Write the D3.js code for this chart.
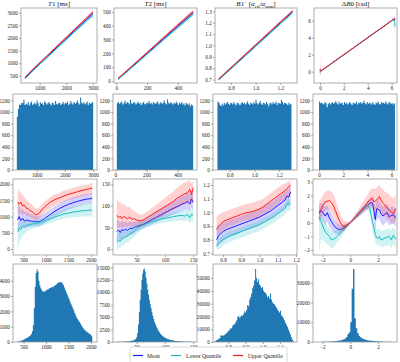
<!DOCTYPE html>
<html>
<head>
<meta charset="utf-8">
<title>Quantile regression panels</title>
<script src="https://d3js.org/d3.v7.min.js"></script>
<style>
  html, body { margin:0; padding:0; background:#fff; }
  svg text { font-family: "Liberation Serif", "Times New Roman", serif; }
</style>
</head>
<body>
<div id="chart"></div>
<script>
// ---------- row 1 : estimate vs reference ----------
var r1T1x = [450, 800, 1300, 1800, 2300, 2800, 3000];
var r1T1Up = [450, 820, 1320, 1830, 2330, 2840, 3040];
var r1T1UpHi = [475, 850, 1355, 1870, 2380, 2900, 3110];
var r1T1UpLo = [430, 795, 1290, 1795, 2290, 2790, 2980];
var r1T1Mean = [420, 790, 1285, 1790, 2285, 2780, 2970];
var r1T1MeanHi = [440, 815, 1315, 1825, 2330, 2830, 3030];
var r1T1MeanLo = [400, 765, 1255, 1755, 2245, 2730, 2910];
var r1T1Low = [390, 760, 1250, 1745, 2235, 2720, 2890];
var r1T1LowHi = [410, 785, 1280, 1780, 2275, 2770, 2950];
var r1T1LowLo = [365, 730, 1215, 1705, 2185, 2660, 2820];

var r1T2x = [12, 100, 200, 300, 400, 500];
var r1T2Up = [20, 106, 206, 306, 405, 503];
var r1T2UpHi = [24, 112, 214, 316, 417, 517];
var r1T2UpLo = [16, 101, 199, 298, 396, 492];
var r1T2Mean = [16, 101, 200, 298, 396, 493];
var r1T2MeanHi = [20, 106, 207, 307, 406, 505];
var r1T2MeanLo = [12, 96, 193, 290, 386, 480];
var r1T2Low = [12, 96, 193, 290, 386, 481];
var r1T2LowHi = [15, 101, 199, 298, 395, 491];
var r1T2LowLo = [8, 90, 186, 281, 375, 468];

var r1B1x = [0.7, 0.8, 0.9, 1.0, 1.1, 1.2, 1.3];
var r1B1Up = [0.706, 0.806, 0.906, 1.006, 1.106, 1.206, 1.304];
var r1B1UpHi = [0.714, 0.815, 0.916, 1.017, 1.118, 1.219, 1.318];
var r1B1UpLo = [0.7, 0.8, 0.9, 1.0, 1.1, 1.2, 1.297];
var r1B1Mean = [0.701, 0.8, 0.9, 1.0, 1.1, 1.2, 1.297];
var r1B1MeanHi = [0.708, 0.808, 0.909, 1.01, 1.11, 1.21, 1.308];
var r1B1MeanLo = [0.694, 0.793, 0.892, 0.991, 1.09, 1.189, 1.286];
var r1B1Low = [0.696, 0.795, 0.894, 0.993, 1.092, 1.191, 1.289];
var r1B1LowHi = [0.702, 0.802, 0.902, 1.002, 1.102, 1.202, 1.3];
var r1B1LowLo = [0.688, 0.786, 0.884, 0.982, 1.08, 1.178, 1.276];

var r1B0x = [0, 0.02, 0.1, 1, 2, 3, 4, 5, 6, 6.2, 6.26, 6.28];
var r1B0Up = [0.3, 0.1, 0.12, 1.02, 2.02, 3.02, 4.02, 5.02, 6.02, 6.22, 6.28, 6.3];
var r1B0UpHi = [2.5, 1.0, 0.2, 1.06, 2.06, 3.06, 4.06, 5.06, 6.06, 6.3, 6.6, 7.2];
var r1B0UpLo = [-0.8, -0.3, 0.05, 0.98, 1.98, 2.98, 3.98, 4.98, 5.98, 6.15, 6.1, 5.8];
var r1B0Mean = [0.1, 0.05, 0.1, 1.0, 2.0, 3.0, 4.0, 5.0, 6.0, 6.18, 6.2, 6.1];
var r1B0MeanHi = [1.0, 0.5, 0.15, 1.04, 2.04, 3.04, 4.04, 5.04, 6.04, 6.25, 6.4, 6.6];
var r1B0MeanLo = [-0.6, -0.2, 0.05, 0.96, 1.96, 2.96, 3.96, 4.96, 5.96, 6.1, 5.7, 5.0];
var r1B0Low = [-0.1, 0.0, 0.08, 0.98, 1.98, 2.98, 3.98, 4.98, 5.98, 6.1, 5.8, 5.3];
var r1B0LowHi = [0.5, 0.2, 0.12, 1.02, 2.02, 3.02, 4.02, 5.02, 6.02, 6.2, 6.3, 6.3];
var r1B0LowLo = [-1.2, -0.4, 0.02, 0.94, 1.94, 2.94, 3.94, 4.94, 5.94, 5.9, 4.5, 3.0];

// ---------- row 2 : uniform training distributions ----------
var r2T1Range = [300, 3000];
var r2T1Counts = [920, 1050, 1130, 1120, 1160, 1150, 1210, 1120, 1140, 1130, 1170, 1110, 1150, 1180, 1120, 1140, 1160, 1130, 1200, 1150, 1100, 1170, 1140, 1150, 1120, 1180, 1160, 1130, 1150, 1170, 1140, 1110, 1160, 1150, 1120, 1190, 1140, 1130, 1160, 1150, 1120, 1140, 1170, 1130, 1160, 1150, 1180, 1120, 1140, 1190, 1150, 1130, 1170, 1140, 1160, 1200, 1150, 1130, 1250, 1160, 1140, 1170, 1130, 1150, 1180, 1120, 1160, 1140, 1150, 1170];
var r2T2Range = [10, 500];
var r2T2Counts = [1150, 1170, 1140, 1160, 1180, 1130, 1150, 1200, 1140, 1170, 1160, 1130, 1210, 1150, 1140, 1170, 1160, 1130, 1150, 1180, 1140, 1160, 1120, 1150, 1170, 1140, 1130, 1160, 1150, 1190, 1140, 1160, 1130, 1170, 1150, 1140, 1160, 1180, 1130, 1150, 1170, 1140, 1160, 1200, 1150, 1130, 1220, 1160, 1140, 1170, 1150, 1130, 1160, 1140, 1180, 1150, 1120, 1160, 1140, 1170, 1130, 1150, 1110, 1160, 1140, 1120, 1150, 1100, 1130, 1110];
var r2B1Range = [0.7, 1.3];
var r2B1Counts = [1180, 1160, 1120, 1100, 1140, 1110, 1160, 1130, 1150, 1170, 1140, 1120, 1160, 1150, 1130, 1170, 1140, 1110, 1150, 1160, 1130, 1120, 1150, 1170, 1140, 1160, 1130, 1150, 1180, 1140, 1120, 1160, 1150, 1130, 1170, 1140, 1210, 1150, 1130, 1160, 1190, 1140, 1120, 1160, 1150, 1130, 1170, 1140, 1100, 1150, 1160, 1130, 1170, 1140, 1150, 1180, 1120, 1160, 1150, 1140, 1210, 1170, 1130, 1160, 1150, 1140, 1120, 1160, 1130, 1140];
var r2B0Range = [0, 6.283];
var r2B0Counts = [1180, 1150, 1160, 1140, 1130, 1170, 1150, 1080, 1140, 1160, 1130, 1150, 1170, 1140, 1160, 1190, 1150, 1130, 1180, 1140, 1160, 1150, 1120, 1170, 1140, 1160, 1130, 1150, 1170, 1140, 1120, 1160, 1150, 1140, 1180, 1130, 1160, 1150, 1170, 1140, 1160, 1200, 1150, 1130, 1170, 1140, 1160, 1150, 1130, 1170, 1140, 1120, 1160, 1150, 1180, 1140, 1130, 1170, 1150, 1160, 1140, 1180, 1150, 1130, 1170, 1160, 1140, 1150, 1130, 1150];

// ---------- row 3 : quantiles along the in-vivo range ----------
var r3T1x = [370, 400, 440, 480, 520, 560, 600, 640, 680, 720, 760, 800, 850, 900, 960, 1020, 1100, 1200, 1300, 1400, 1500, 1600, 1700, 1800, 1900, 1960, 2000, 2030];
var r3T1Up = [1460, 1380, 1450, 1330, 1350, 1260, 1250, 1180, 1170, 1110, 1070, 1060, 1110, 1200, 1290, 1360, 1450, 1530, 1580, 1640, 1690, 1730, 1770, 1810, 1840, 1860, 1880, 1870];
var r3T1UpHi = [1900, 1800, 1750, 1650, 1600, 1530, 1480, 1420, 1380, 1320, 1270, 1250, 1290, 1370, 1460, 1530, 1610, 1690, 1740, 1800, 1850, 1890, 1930, 1960, 1990, 2010, 2040, 2050];
var r3T1UpLo = [1100, 1050, 1120, 1060, 1100, 1020, 1030, 990, 970, 930, 900, 890, 940, 1020, 1110, 1180, 1270, 1350, 1400, 1460, 1510, 1550, 1590, 1630, 1660, 1680, 1700, 1690];
var r3T1Mean = [900, 1000, 880, 950, 860, 900, 880, 870, 860, 850, 845, 840, 850, 880, 930, 990, 1070, 1170, 1250, 1320, 1380, 1430, 1470, 1510, 1540, 1550, 1560, 1570];
var r3T1MeanHi = [1300, 1350, 1200, 1250, 1150, 1160, 1120, 1090, 1070, 1050, 1030, 1010, 1010, 1040, 1090, 1150, 1230, 1330, 1410, 1480, 1540, 1590, 1630, 1670, 1700, 1710, 1730, 1740];
var r3T1MeanLo = [600, 650, 620, 680, 640, 680, 680, 690, 690, 700, 700, 700, 710, 740, 790, 840, 920, 1010, 1090, 1160, 1220, 1270, 1310, 1350, 1380, 1390, 1400, 1400];
var r3T1Low = [520, 650, 600, 700, 680, 720, 740, 760, 770, 780, 790, 800, 810, 830, 860, 890, 930, 990, 1040, 1080, 1110, 1140, 1160, 1180, 1190, 1200, 1210, 1180];
var r3T1LowHi = [800, 850, 820, 880, 850, 860, 870, 880, 880, 880, 885, 890, 900, 920, 960, 1000, 1050, 1120, 1180, 1230, 1270, 1310, 1340, 1370, 1390, 1400, 1410, 1400];
var r3T1LowLo = [-50, 200, 300, 420, 450, 520, 560, 600, 620, 640, 660, 670, 690, 710, 740, 770, 810, 860, 900, 940, 960, 980, 990, 1000, 1010, 1010, 1000, 980];

var r3T2x = [15, 18, 21, 24, 27, 30, 34, 38, 42, 46, 50, 55, 60, 65, 70, 75, 80, 85, 90, 95, 100, 105, 110, 115, 120, 125, 130, 135, 140, 144, 147, 150];
var r3T2Up = [78, 72, 76, 70, 75, 73, 70, 74, 68, 70, 67, 65, 66, 70, 74, 78, 82, 86, 90, 94, 98, 102, 106, 110, 116, 120, 124, 128, 130, 138, 126, 142];
var r3T2UpHi = [120, 108, 110, 102, 105, 100, 96, 98, 90, 88, 84, 80, 80, 84, 88, 93, 98, 103, 108, 113, 118, 123, 128, 133, 140, 145, 150, 155, 156, 160, 152, 158];
var r3T2UpLo = [50, 48, 52, 48, 52, 52, 50, 54, 50, 54, 53, 52, 54, 57, 61, 64, 67, 70, 73, 76, 80, 83, 86, 90, 94, 98, 101, 104, 105, 110, 100, 112];
var r3T2Mean = [40, 44, 38, 45, 42, 46, 43, 48, 47, 50, 52, 54, 56, 59, 63, 66, 70, 73, 77, 80, 84, 87, 91, 94, 97, 100, 104, 106, 110, 104, 116, 108];
var r3T2MeanHi = [68, 66, 60, 66, 62, 64, 60, 64, 62, 63, 64, 64, 66, 70, 74, 78, 82, 86, 90, 94, 98, 102, 106, 110, 114, 118, 122, 125, 130, 126, 136, 130];
var r3T2MeanLo = [18, 22, 20, 26, 24, 28, 28, 32, 33, 37, 40, 44, 47, 50, 53, 56, 59, 62, 65, 68, 71, 74, 77, 79, 82, 85, 88, 90, 92, 86, 96, 88];
var r3T2Low = [15, 20, 18, 25, 24, 28, 30, 35, 38, 42, 46, 51, 55, 57, 60, 62, 64, 66, 68, 70, 71, 72, 73, 75, 76, 77, 78, 76, 80, 72, 80, 78];
var r3T2LowHi = [35, 38, 36, 42, 40, 44, 45, 49, 51, 54, 57, 61, 64, 66, 68, 70, 72, 74, 76, 78, 80, 81, 83, 85, 87, 88, 89, 88, 92, 86, 92, 90];
var r3T2LowLo = [-5, 2, 2, 8, 8, 12, 15, 20, 24, 29, 34, 40, 45, 48, 51, 53, 55, 57, 59, 60, 61, 62, 63, 64, 65, 66, 66, 63, 67, 58, 66, 62];

var r3B1x = [0.765, 0.775, 0.785, 0.8, 0.82, 0.84, 0.86, 0.88, 0.9, 0.92, 0.94, 0.96, 0.98, 1.0, 1.02, 1.04, 1.06, 1.08, 1.1, 1.12, 1.14, 1.15, 1.16, 1.17];
var r3B1Up = [0.875, 0.9, 0.91, 0.93, 0.945, 0.955, 0.965, 0.975, 0.985, 0.995, 1.0, 1.005, 1.015, 1.025, 1.04, 1.06, 1.08, 1.1, 1.12, 1.14, 1.16, 1.175, 1.185, 1.2];
var r3B1UpHi = [0.97, 0.98, 0.99, 1.0, 1.01, 1.02, 1.03, 1.04, 1.05, 1.06, 1.065, 1.07, 1.08, 1.09, 1.1, 1.12, 1.14, 1.16, 1.18, 1.2, 1.21, 1.22, 1.225, 1.23];
var r3B1UpLo = [0.82, 0.84, 0.85, 0.87, 0.89, 0.9, 0.91, 0.92, 0.93, 0.94, 0.945, 0.95, 0.96, 0.97, 0.985, 1.0, 1.02, 1.04, 1.06, 1.08, 1.1, 1.11, 1.12, 1.13];
var r3B1Mean = [0.8, 0.83, 0.84, 0.86, 0.875, 0.885, 0.895, 0.905, 0.915, 0.925, 0.935, 0.945, 0.955, 0.965, 0.98, 0.995, 1.01, 1.03, 1.05, 1.07, 1.09, 1.12, 1.11, 1.15];
var r3B1MeanHi = [0.88, 0.9, 0.91, 0.92, 0.935, 0.945, 0.955, 0.965, 0.975, 0.985, 0.995, 1.005, 1.015, 1.025, 1.04, 1.055, 1.07, 1.09, 1.11, 1.13, 1.15, 1.17, 1.17, 1.19];
var r3B1MeanLo = [0.74, 0.76, 0.77, 0.79, 0.81, 0.82, 0.83, 0.84, 0.855, 0.865, 0.875, 0.885, 0.895, 0.905, 0.92, 0.935, 0.95, 0.97, 0.99, 1.01, 1.03, 1.05, 1.04, 1.08];
var r3B1Low = [0.755, 0.775, 0.785, 0.8, 0.815, 0.83, 0.84, 0.85, 0.86, 0.87, 0.88, 0.89, 0.9, 0.91, 0.925, 0.94, 0.955, 0.97, 0.99, 1.01, 1.03, 1.06, 1.07, 1.055];
var r3B1LowHi = [0.8, 0.81, 0.82, 0.835, 0.85, 0.86, 0.87, 0.88, 0.89, 0.9, 0.91, 0.92, 0.93, 0.94, 0.955, 0.97, 0.985, 1.0, 1.02, 1.04, 1.06, 1.09, 1.1, 1.09];
var r3B1LowLo = [0.72, 0.73, 0.74, 0.755, 0.77, 0.785, 0.795, 0.805, 0.815, 0.825, 0.835, 0.845, 0.855, 0.865, 0.88, 0.895, 0.91, 0.925, 0.945, 0.965, 0.985, 1.01, 1.02, 1.0];

var r3B0x = [-2.25, -2.1, -1.95, -1.8, -1.65, -1.5, -1.35, -1.2, -1.05, -0.9, -0.75, -0.6, -0.45, -0.3, -0.15, 0, 0.2, 0.4, 0.6, 0.8, 1.0, 1.2, 1.4, 1.5, 1.6, 1.7, 1.8, 1.9, 2.0, 2.1, 2.2, 2.35, 2.5, 2.65, 2.8, 2.95, 3.1, 3.27];
var r3B0Up = [0.8, 1.0, 1.3, 1.55, 1.6, 1.65, 1.5, 1.25, 0.85, 0.45, 0.1, -0.15, -0.27, -0.2, -0.1, 0.02, 0.25, 0.47, 0.72, 0.95, 1.2, 1.45, 1.7, 1.78, 1.82, 1.55, 1.62, 1.7, 1.8, 1.95, 1.7, 1.45, 1.3, 1.1, 0.95, 0.8, 0.7, 1.05];
var r3B0UpHi = [1.6, 1.8, 2.1, 2.3, 2.4, 2.4, 2.3, 2.1, 1.7, 1.2, 0.7, 0.35, 0.15, 0.1, 0.1, 0.08, 0.4, 0.7, 1.05, 1.35, 1.7, 2.0, 2.35, 2.5, 2.6, 2.5, 2.5, 2.6, 2.7, 2.8, 2.6, 2.5, 2.3, 2.2, 2.1, 1.9, 1.8, 2.1];
var r3B0UpLo = [0.1, 0.4, 0.7, 0.9, 1.0, 1.0, 0.8, 0.5, 0.1, -0.3, -0.5, -0.6, -0.6, -0.45, -0.3, -0.05, 0.1, 0.3, 0.45, 0.65, 0.85, 1.0, 1.2, 1.25, 1.2, 0.8, 0.9, 1.0, 1.0, 1.1, 0.9, 0.6, 0.5, 0.3, 0.2, 0.0, -0.1, 0.2];
var r3B0Mean = [0.7, 0.9, 0.75, 0.5, 0.75, 0.35, 0.1, -0.15, -0.35, -0.45, -0.52, -0.45, -0.35, -0.22, -0.1, 0.02, 0.22, 0.45, 0.65, 0.85, 1.05, 1.25, 1.45, 1.5, 1.45, 0.9, 0.25, 1.05, 1.0, 0.95, 0.7, 0.5, 0.65, 0.75, 0.45, 0.55, 0.6, 0.35];
var r3B0MeanHi = [1.3, 1.5, 1.4, 1.2, 1.3, 1.0, 0.7, 0.4, 0.1, -0.05, -0.15, -0.15, -0.1, -0.05, 0.0, 0.06, 0.35, 0.62, 0.85, 1.1, 1.3, 1.55, 1.8, 1.9, 1.9, 1.6, 1.2, 1.7, 1.7, 1.6, 1.4, 1.2, 1.3, 1.4, 1.1, 1.2, 1.2, 1.0];
var r3B0MeanLo = [0.1, 0.3, 0.1, -0.2, 0.1, -0.3, -0.5, -0.7, -0.8, -0.85, -0.9, -0.75, -0.6, -0.4, -0.2, -0.02, 0.1, 0.3, 0.45, 0.6, 0.8, 0.95, 1.1, 1.1, 0.9, 0.2, -0.6, 0.3, 0.3, 0.3, 0.0, -0.2, 0.0, 0.1, -0.2, -0.1, 0.0, -0.3];
var r3B0Low = [0.45, 0.1, -0.3, -0.65, -0.85, -1.0, -1.25, -1.2, -1.1, -0.95, -0.8, -0.62, -0.45, -0.3, -0.15, 0.0, 0.2, 0.42, 0.62, 0.85, 1.05, 1.3, 1.1, 0.6, 0.1, -0.4, -0.85, -1.1, -1.15, -1.0, -1.25, -1.2, -1.1, -1.05, -1.0, -1.25, -0.9, -1.2];
var r3B0LowHi = [1.0, 0.7, 0.3, 0.0, -0.2, -0.4, -0.6, -0.6, -0.55, -0.5, -0.4, -0.3, -0.2, -0.1, 0.0, 0.05, 0.3, 0.55, 0.8, 1.05, 1.3, 1.55, 1.5, 1.2, 0.7, 0.1, -0.3, -0.5, -0.55, -0.4, -0.6, -0.55, -0.5, -0.45, -0.4, -0.6, -0.3, -0.6];
var r3B0LowLo = [-2.2, -1.2, -1.3, -1.4, -1.6, -1.7, -1.9, -1.8, -1.6, -1.4, -1.2, -1.0, -0.75, -0.5, -0.3, -0.05, 0.1, 0.3, 0.45, 0.65, 0.8, 1.0, 0.6, 0.0, -0.5, -1.0, -1.4, -1.6, -1.7, -1.6, -1.8, -1.8, -1.7, -1.7, -1.6, -1.9, -1.5, -1.9];

// ---------- row 4 : in-vivo distributions ----------
var r4T1Range = [350, 2030];
var r4T1Counts = [20, 30, 40, 60, 80, 100, 130, 160, 200, 230, 260, 300, 340, 380, 430, 520, 700, 1100, 2200, 3600, 4500, 4750, 4600, 4000, 3700, 3500, 3400, 3300, 3280, 3300, 3350, 3380, 3420, 3450, 3500, 3520, 3560, 3600, 3580, 3650, 3700, 3720, 3800, 3850, 3900, 3920, 3880, 3900, 3820, 3700, 3550, 3400, 3250, 3100, 2950, 2800, 2650, 2500, 2350, 2200, 2050, 1900, 1750, 1600, 1500, 1400, 1300, 1200, 1100, 1000, 900, 820, 750, 700, 650, 600, 560, 520, 480, 380];
var r4T2Range = [15, 150];
var r4T2Counts = [30, 40, 40, 50, 60, 60, 70, 80, 90, 100, 110, 120, 130, 150, 170, 190, 210, 240, 280, 320, 380, 480, 650, 1000, 1800, 3500, 6000, 8500, 10500, 12500, 13800, 14600, 14800, 14200, 13000, 11800, 10500, 9500, 8500, 7600, 6800, 6000, 5300, 4700, 4100, 3600, 3200, 2800, 2450, 2150, 1900, 1650, 1450, 1300, 1150, 1000, 900, 800, 720, 650, 580, 520, 470, 420, 380, 340, 300, 270, 240, 220, 200, 180, 160, 145, 130, 120, 110, 100, 90, 80, 75, 70, 60, 55, 50, 45, 40, 40, 35, 30];
var r4B1Range = [0.72, 1.18];
var r4B1Counts = [400, 900, 1500, 2000, 2500, 3000, 5200, 4800, 5000, 5100, 5600, 6500, 7000, 8000, 9000, 9500, 11000, 10500, 13000, 13500, 14000, 15500, 17000, 19500, 20500, 19000, 20000, 21000, 20500, 22000, 24000, 23000, 25000, 29000, 28000, 33000, 35000, 38000, 42000, 44000, 48000, 57000, 50000, 47000, 49000, 45000, 44000, 42000, 43000, 40000, 39000, 38500, 37000, 35000, 36000, 34000, 38000, 33000, 31000, 30000, 29500, 28000, 27000, 25500, 24000, 23000, 24500, 21000, 20000, 18500, 17000, 15000, 13500, 12000, 10000, 8000, 6000, 4000, 2000, 800];
var r4B0Range = [-2.6, 3.3];
var r4B0Counts = [30, 40, 40, 50, 60, 70, 80, 100, 120, 150, 180, 220, 260, 310, 380, 450, 520, 620, 750, 900, 1100, 1400, 1800, 2500, 4000, 5000, 10000, 27000, 37000, 12000, 7000, 4500, 3200, 2400, 1900, 1500, 1250, 1050, 900, 780, 680, 600, 520, 460, 400, 350, 300, 260, 220, 190, 160, 130, 110, 90, 70, 50, 40, 30, 20];

var legendLabels = ['Mean', 'Lower Quantile', 'Upper Quantile'];
var colMean = '#1a1aff', colLow = '#17bfbf', colUp = '#ff1a1a', colHist = '#1f77b4';

// ---------- drawing ----------
var svg = d3.select('#chart').append('svg').attr('width', 400).attr('height', 362);
var clipN = 0;

function panel(box, xDom, yDom, xTicks, yTicks, xFmt, yFmt) {
    var p = { box: box };
    p.x = d3.scaleLinear().domain(xDom).range([box[0], box[2]]);
    p.y = d3.scaleLinear().domain(yDom).range([box[3], box[1]]);
    var id = 'clip' + (clipN++);
    svg.append('clipPath').attr('id', id).append('rect')
        .attr('x', box[0]).attr('y', box[1])
        .attr('width', box[2] - box[0]).attr('height', box[3] - box[1]);
    p.g = svg.append('g').attr('clip-path', 'url(#' + id + ')');

    var gx = svg.append('g').attr('transform', 'translate(0,' + box[3] + ')')
        .call(d3.axisBottom(p.x).tickValues(xTicks).tickFormat(xFmt).tickSize(2).tickPadding(1.2));
    var gy = svg.append('g').attr('transform', 'translate(' + box[0] + ',0)')
        .call(d3.axisLeft(p.y).tickValues(yTicks).tickFormat(yFmt).tickSize(2).tickPadding(1.2));
    [gx, gy].forEach(function (g) {
        g.attr('font-family', '"Liberation Serif", "Times New Roman", serif').attr('font-size', 5.2);
        g.select('.domain').remove();
        g.selectAll('line').attr('stroke', '#666').attr('stroke-width', 0.6);
        g.selectAll('text').attr('fill', '#222');
    });
    p.frame = function () {
        svg.append('rect').attr('x', box[0]).attr('y', box[1])
            .attr('width', box[2] - box[0]).attr('height', box[3] - box[1])
            .attr('fill', 'none').attr('stroke', '#9a9a9a').attr('stroke-width', 0.8);
    };
    return p;
}

function quantiles(p, xs, series) {
    series.forEach(function (s) {
        var area = d3.area()
            .x(function (d, i) { return p.x(xs[i]); })
            .y0(function (d, i) { return p.y(s.lo[i]); })
            .y1(function (d, i) { return p.y(s.hi[i]); });
        p.g.append('path').attr('d', area(xs)).attr('fill', s.color).attr('fill-opacity', 0.2);
        var line = d3.line()
            .x(function (d, i) { return p.x(xs[i]); })
            .y(function (d) { return p.y(d); });
        p.g.append('path').attr('d', line(s.line)).attr('fill', 'none')
            .attr('stroke', s.color).attr('stroke-width', 1);
    });
    p.frame();
}

// histogram as one stepped outline, so thin bins leave no seams
function hist(p, range, counts) {
    var w = (range[1] - range[0]) / counts.length;
    var steps = counts.concat([counts[counts.length - 1]]);
    var area = d3.area().curve(d3.curveStepAfter)
        .x(function (d, i) { return p.x(range[0] + i * w); })
        .y0(p.y(0))
        .y1(function (d) { return p.y(d); });
    p.g.append('path').attr('d', area(steps)).attr('fill', colHist);
    p.frame();
}

function sets(up, upHi, upLo, mean, meanHi, meanLo, low, lowHi, lowLo) {
    return [
        { line: mean, lo: meanLo, hi: meanHi, color: colMean },
        { line: low, lo: lowLo, hi: lowHi, color: colLow },
        { line: up, lo: upLo, hi: upHi, color: colUp }
    ];
}

var fInt = d3.format('d'), f1 = d3.format('.1f');
var rowY = [[8, 83], [94, 170], [179, 255], [264, 342]];
var colX = [[13, 97], [113, 197], [213, 297], [313, 397]];

// row 1
var p;
p = panel([21, rowY[0][0], 97, rowY[0][1]], [300, 3150], [220, 3190], [1000, 2000, 3000], [500, 1000, 1500, 2000, 2500, 3000], fInt, fInt);
quantiles(p, r1T1x, sets(r1T1Up, r1T1UpHi, r1T1UpLo, r1T1Mean, r1T1MeanHi, r1T1MeanLo, r1T1Low, r1T1LowHi, r1T1LowLo));
p = panel([114, rowY[0][0], 197, rowY[0][1]], [-14.5, 524.5], [-14, 527], [0, 200, 400], [0, 100, 200, 300, 400, 500], fInt, fInt);
quantiles(p, r1T2x, sets(r1T2Up, r1T2UpHi, r1T2UpLo, r1T2Mean, r1T2MeanHi, r1T2MeanLo, r1T2Low, r1T2LowHi, r1T2LowLo));
p = panel([215, rowY[0][0], 297, rowY[0][1]], [0.67, 1.335], [0.67, 1.33], [0.8, 1.0, 1.2], [0.7, 0.8, 0.9, 1.0, 1.1, 1.2, 1.3], f1, f1);
quantiles(p, r1B1x, sets(r1B1Up, r1B1UpHi, r1B1UpLo, r1B1Mean, r1B1MeanHi, r1B1MeanLo, r1B1Low, r1B1LowHi, r1B1LowLo));
p = panel([314, rowY[0][0], 397, rowY[0][1]], [-0.5, 6.45], [-1.33, 7.5], [0, 2, 4, 6], [0, 2, 4, 6], fInt, fInt);
quantiles(p, r1B0x, sets(r1B0Up, r1B0UpHi, r1B0UpLo, r1B0Mean, r1B0MeanHi, r1B0MeanLo, r1B0Low, r1B0LowHi, r1B0LowLo));

// row 2
var yHist2 = [0, 200, 400, 600, 800, 1000, 1200];
p = panel([colX[0][0], rowY[1][0], colX[0][1], rowY[1][1]], [165, 3135], [0, 1310], [1000, 2000, 3000], yHist2, fInt, fInt);
hist(p, r2T1Range, r2T1Counts);
p = panel([colX[1][0], rowY[1][0], colX[1][1], rowY[1][1]], [-14.5, 524.5], [0, 1310], [0, 200, 400], yHist2, fInt, fInt);
hist(p, r2T2Range, r2T2Counts);
p = panel([colX[2][0], rowY[1][0], colX[2][1], rowY[1][1]], [0.664, 1.345], [0, 1310], [0.8, 1.0, 1.2], yHist2, f1, fInt);
hist(p, r2B1Range, r2B1Counts);
p = panel([colX[3][0], rowY[1][0], colX[3][1], rowY[1][1]], [-0.5, 6.45], [0, 1310], [0, 2, 4, 6], yHist2, fInt, fInt);
hist(p, r2B0Range, r2B0Counts);

// row 3
p = panel([colX[0][0], rowY[2][0], colX[0][1], rowY[2][1]], [265, 2135], [-186, 2164], [500, 1000, 1500, 2000], [0, 500, 1000, 1500, 2000], fInt, fInt);
quantiles(p, r3T1x, sets(r3T1Up, r3T1UpHi, r3T1UpLo, r3T1Mean, r3T1MeanHi, r3T1MeanLo, r3T1Low, r3T1LowHi, r3T1LowLo));
p = panel([colX[1][0], rowY[2][0], colX[1][1], rowY[2][1]], [8.25, 156.75], [-14, 162], [50, 100, 150], [0, 50, 100, 150], fInt, fInt);
quantiles(p, r3T2x, sets(r3T2Up, r3T2UpHi, r3T2UpLo, r3T2Mean, r3T2MeanHi, r3T2MeanLo, r3T2Low, r3T2LowHi, r3T2LowLo));
p = panel([colX[2][0], rowY[2][0], colX[2][1], rowY[2][1]], [0.745, 1.205], [0.688, 1.244], [0.8, 0.9, 1.0, 1.1, 1.2], [0.7, 0.8, 0.9, 1.0, 1.1, 1.2], f1, f1);
quantiles(p, r3B1x, sets(r3B1Up, r3B1UpHi, r3B1UpLo, r3B1Mean, r3B1MeanHi, r3B1MeanLo, r3B1Low, r3B1LowHi, r3B1LowLo));
p = panel([colX[3][0], rowY[2][0], colX[3][1], rowY[2][1]], [-2.68, 3.36], [-2.37, 3.24], [-2, 0, 2], [-2, -1, 0, 1, 2, 3], fInt, fInt);
quantiles(p, r3B0x, sets(r3B0Up, r3B0UpHi, r3B0UpLo, r3B0Mean, r3B0MeanHi, r3B0MeanLo, r3B0Low, r3B0LowHi, r3B0LowLo));

// row 4
p = panel([colX[0][0], rowY[3][0], colX[0][1], rowY[3][1]], [265, 2135], [0, 5090], [500, 1000, 1500, 2000], [0, 1000, 2000, 3000, 4000], fInt, fInt);
hist(p, r4T1Range, r4T1Counts);
p = panel([colX[1][0], rowY[3][0], colX[1][1], rowY[3][1]], [8.25, 156.75], [0, 15700], [50, 100, 150], [0, 2500, 5000, 7500, 10000, 12500, 15000], fInt, fInt);
hist(p, r4T2Range, r4T2Counts);
p = panel([colX[2][0], rowY[3][0], colX[2][1], rowY[3][1]], [0.712, 1.198], [0, 61000], [0.8, 0.9, 1.0, 1.1], [0, 10000, 20000, 30000, 40000, 50000], f1, fInt);
hist(p, r4B1Range, r4B1Counts);
p = panel([colX[3][0], rowY[3][0], colX[3][1], rowY[3][1]], [-2.68, 3.36], [0, 39500], [-2, 0, 2], [0, 10000, 20000, 30000], fInt, fInt);
hist(p, r4B0Range, r4B0Counts);

// titles (row 1)
function title(cx) {
    return svg.append('text').attr('x', cx).attr('y', 6.3).attr('text-anchor', 'middle')
        .attr('font-size', 7).attr('fill', '#111');
}
var t = title(59);
t.append('tspan').attr('font-style', 'italic').text('T');
t.append('tspan').text('1 [ms]');
t = title(155.5);
t.append('tspan').attr('font-style', 'italic').text('T');
t.append('tspan').text('2 [ms]');
t = title(256);
t.append('tspan').attr('font-style', 'italic').text('B');
t.append('tspan').text('1');
t.append('tspan').attr('font-size', 5).attr('dy', -2.5).text('+');
t.append('tspan').attr('dy', 2.5).text(' [');
t.append('tspan').attr('font-style', 'italic').text('α');
t.append('tspan').attr('font-size', 4.5).attr('dy', 1.5).text('eff');
t.append('tspan').attr('dy', -1.5).text('/');
t.append('tspan').attr('font-style', 'italic').text('α');
t.append('tspan').attr('font-size', 4.5).attr('dy', 1.5).text('nom');
t.append('tspan').attr('dy', -1.5).text(']');
t = title(355.5);
t.append('tspan').text('Δ');
t.append('tspan').attr('font-style', 'italic').text('B');
t.append('tspan').text('0 [rad]');

// legend
var lg = svg.append('g');
lg.append('rect').attr('x', 130).attr('y', 347).attr('width', 157).attr('height', 16).attr('rx', 1.5)
    .attr('fill', '#fff').attr('stroke', '#cfcfcf').attr('stroke-width', 0.8);
var legendPos = [[133, 147], [171, 186], [233, 248]];
var legendCols = [colMean, colLow, colUp];
legendLabels.forEach(function (lab, i) {
    lg.append('line').attr('x1', legendPos[i][0]).attr('x2', legendPos[i][0] + 10)
        .attr('y1', 355.5).attr('y2', 355.5).attr('stroke', legendCols[i]).attr('stroke-width', 1.2);
    lg.append('text').attr('x', legendPos[i][1]).attr('y', 357.5).attr('font-size', 5.6)
        .attr('fill', '#222').text(lab);
});
</script>
</body>
</html>
